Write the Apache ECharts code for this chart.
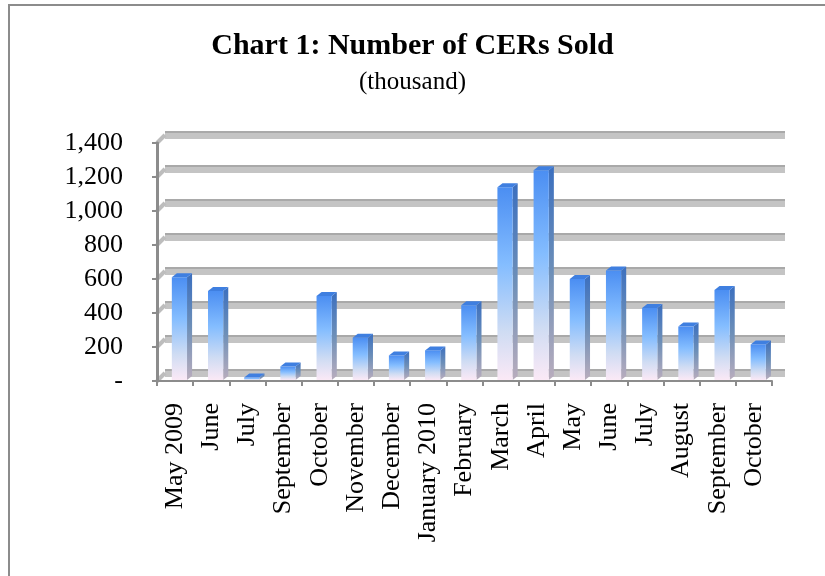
<!DOCTYPE html>
<html>
<head>
<meta charset="utf-8">
<script src="https://cdn.jsdelivr.net/npm/echarts@6/dist/echarts.min.js"></script>
<style>
  html, body { margin: 0; padding: 0; background: #fff; }
  #chart { width: 825px; height: 576px; }
</style>
</head>
<body>
<div id="chart"></div>
<script>
const categories = ['May 2009', 'June', 'July', 'September', 'October', 'November', 'December',
  'January 2010', 'February', 'March', 'April', 'May', 'June', 'July', 'August', 'September', 'October'];
const cersSold = [610, 530, 20, 85, 500, 255, 150, 180, 445, 1140, 1240, 600, 650, 430, 320, 535, 215];
const yTicks = [0, 200, 400, 600, 800, 1000, 1200, 1400];

const FONT = "'Liberation Serif', 'Times New Roman', serif";
const chart = echarts.init(document.getElementById('chart'), null, { renderer: 'canvas' });

function fmt(v) {
  if (v === 0) return '-';
  return v.toString().replace(/\B(?=(\d{3})+(?!\d))/g, ',');
}

const yBase = { type: 'value', min: 0, max: 1400, interval: 200 };
const hiddenCat = { type: 'category', data: categories, show: false };

const option = {
  animation: false,
  backgroundColor: '#ffffff',
  title: [
    { text: 'Chart 1: Number of CERs Sold', left: 'center', top: 26,
      textStyle: { fontFamily: FONT, fontWeight: 'bold', fontSize: 30, color: '#000' } },
    { text: '(thousand)', left: 'center', top: 65,
      textStyle: { fontFamily: FONT, fontWeight: 'normal', fontSize: 25, color: '#000' } }
  ],
  graphic: [
    { type: 'polyline', shape: { points: [[9, 576], [9, 5], [825, 5]] },
      style: { stroke: '#8c8c8c', lineWidth: 2, fill: null }, z: 0 }
  ],
  grid: [
    { left: 157, right: 53, top: 143, bottom: 195 },   // front
    { left: 165, right: 40, top: 135, bottom: 203 },   // back wall (light band)
    { left: 165, right: 40, top: 132, bottom: 206 }    // back wall (dark edge)
  ],
  xAxis: [
    { type: 'category', data: categories, gridIndex: 0,
      axisLine: { lineStyle: { color: '#8c8c8c', width: 2 } },
      axisTick: { show: true, interval: 0, length: 5, lineStyle: { color: '#8c8c8c', width: 2 } },
      axisLabel: { interval: 0, rotate: 90, margin: 22, fontFamily: FONT, fontSize: 26, color: '#000' },
      z: 3 },
    Object.assign({ gridIndex: 1 }, hiddenCat),
    Object.assign({ gridIndex: 2 }, hiddenCat)
  ],
  yAxis: [
    Object.assign({ gridIndex: 0,
      axisLine: { show: true, lineStyle: { color: '#8c8c8c', width: 3 } },
      axisTick: { show: true, length: 5, lineStyle: { color: '#8c8c8c', width: 2 } },
      axisLabel: { margin: 34, fontFamily: FONT, fontSize: 26, color: '#000', formatter: fmt },
      splitLine: { show: false }, z: 3 }, yBase),
    Object.assign({ gridIndex: 1, axisLine: { show: false }, axisTick: { show: false },
      axisLabel: { show: false },
      splitLine: { show: true, lineStyle: { color: '#c4c4c4', width: 7 } } }, yBase),
    Object.assign({ gridIndex: 2, axisLine: { show: false }, axisTick: { show: false },
      axisLabel: { show: false },
      splitLine: { show: true, lineStyle: { color: '#a9a9a9', width: 2 } } }, yBase)
  ],
  series: [
    {
      type: 'custom', xAxisIndex: 0, yAxisIndex: 0, z: 2,
      data: yTicks.map(v => [0, v]),
      renderItem: function (params, api) {
        const p = api.coord([0, api.value(1)]);
        const bw = api.size([1, 0])[0];
        const x = p[0] - bw / 2;
        return { type: 'line', shape: { x1: x, y1: p[1], x2: x + 8, y2: p[1] - 8 },
          style: { stroke: '#bdbdbd', lineWidth: 4 } };
      }
    },
    {
      type: 'custom', xAxisIndex: 0, yAxisIndex: 0, z: 5,
      data: cersSold.map((v, i) => [i, v]),
      renderItem: function (params, api) {
        const i = api.value(0), v = api.value(1);
        const top = api.coord([i, v]);
        const base = api.coord([i, 0]);
        const bw = api.size([1, 0])[0];
        const w = bw * 0.42;
        const x0 = top[0] - bw * 0.09;
        const dx = bw * 0.14, dy = 4;
        const yT = top[1], yB = base[1] - 1;
        const front = { type: 'rect', shape: { x: x0, y: yT, width: w, height: yB - yT },
          style: { fill: new echarts.graphic.LinearGradient(0, 0, 0, 1, [
            { offset: 0, color: '#4b8ef2' }, { offset: 0.4, color: '#84bdff' },
            { offset: 0.75, color: '#cfdcf3' }, { offset: 1, color: '#fbe9f6' }]) } };
        const side = { type: 'polygon', shape: { points: [[x0 + w, yT], [x0 + w + dx, yT - dy], [x0 + w + dx, yB - dy], [x0 + w, yB]] },
          style: { fill: new echarts.graphic.LinearGradient(0, 0, 0, 1, [
            { offset: 0, color: '#3b6fbf' }, { offset: 0.5, color: '#6d8fb8' }, { offset: 1, color: '#b9adbd' }]) } };
        const topFace = { type: 'polygon', shape: { points: [[x0, yT], [x0 + dx, yT - dy], [x0 + w + dx, yT - dy], [x0 + w, yT]] },
          style: { fill: '#3f7fe0' } };
        return { type: 'group', children: [side, front, topFace] };
      }
    }
  ]
};
chart.setOption(option);
</script>
</body>
</html>
